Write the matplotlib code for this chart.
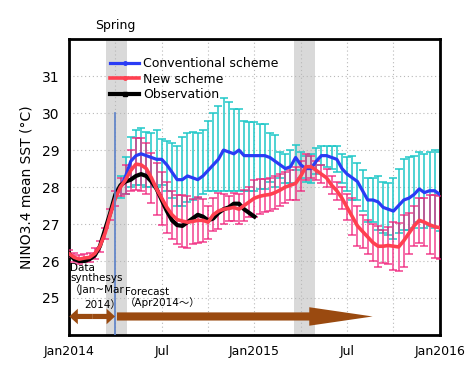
import numpy as np
import matplotlib
matplotlib.use("Agg")
import matplotlib.pyplot as plt
from matplotlib.lines import Line2D
from matplotlib.patches import FancyArrow

plt.rcParams['font.family'] = ['DejaVu Sans', 'Noto Sans CJK JP']

# months since Jan 2014, one value every 1/3 month
obs_start, step = 0.0, 1.0 / 3.0
new_start = 0.0
conv_start = 10.0 / 3.0

obs_sst = [26.2, 26.05, 26.0, 26.0, 26.05, 26.15, 26.4, 26.85, 27.3, 27.8,
           28.05, 28.15, 28.2, 28.3, 28.35, 28.3, 28.15, 27.95, 27.65, 27.35,
           27.1, 26.97, 26.95, 27.05, 27.15, 27.25, 27.2, 27.1, 27.15, 27.3,
           27.4, 27.45, 27.55, 27.55, 27.4, 27.3, 27.2]

new_sst = [26.2, 26.1, 26.05, 26.08, 26.1, 26.2, 26.4, 26.75, 27.25, 27.7,
           28.0, 28.2, 28.45, 28.62, 28.6, 28.5, 28.25, 27.95, 27.7, 27.45,
           27.25, 27.12, 27.08, 27.05, 27.07, 27.1, 27.1, 27.05, 27.25, 27.35,
           27.4, 27.42, 27.45, 27.4, 27.5, 27.6, 27.7, 27.75, 27.78, 27.8,
           27.85, 27.92, 28.0, 28.05, 28.1, 28.3, 28.55, 28.55, 28.45, 28.35,
           28.25, 28.05, 27.9, 27.7, 27.45, 27.2, 26.95, 26.8, 26.65, 26.5,
           26.4, 26.4, 26.42, 26.4, 26.38, 26.55, 26.75, 26.95, 27.1, 27.05,
           26.98, 26.93, 26.9]
new_err = [0.1, 0.12, 0.12, 0.12, 0.12, 0.15, 0.15, 0.15, 0.15, 0.2,
           0.25, 0.4, 0.55, 0.7, 0.72, 0.7, 0.68, 0.7, 0.72, 0.7,
           0.65, 0.67, 0.7, 0.7, 0.6, 0.62, 0.58, 0.45, 0.45, 0.48,
           0.4, 0.35, 0.38, 0.4, 0.42, 0.4, 0.5, 0.48, 0.45, 0.45,
           0.45, 0.42, 0.42, 0.4, 0.45, 0.4, 0.35, 0.3, 0.25, 0.25,
           0.25, 0.25, 0.25, 0.3, 0.35, 0.5, 0.55, 0.45, 0.45, 0.5,
           0.55, 0.45, 0.5, 0.65, 0.65, 0.7, 0.55, 0.55, 0.6, 0.65,
           0.8, 0.85, 0.85]

conv_sst = [28.0, 28.3, 28.7, 28.85, 28.9, 28.85, 28.8, 28.75, 28.75, 28.6,
            28.4, 28.2, 28.2, 28.3, 28.25, 28.2, 28.3, 28.45, 28.6, 28.75,
            29.0, 28.95, 28.9, 29.0, 28.85, 28.85, 28.85, 28.85, 28.85, 28.8,
            28.7, 28.6, 28.5, 28.55, 28.8, 28.6, 28.5, 28.5, 28.7, 28.85,
            28.85, 28.8, 28.75, 28.5, 28.35, 28.25, 28.15, 27.9, 27.65, 27.65,
            27.6, 27.45, 27.4, 27.35, 27.5, 27.65, 27.7, 27.8, 27.95, 27.85,
            27.9, 27.9, 27.8]
conv_err_up = [0.3, 0.5, 0.65, 0.7, 0.7, 0.65, 0.65, 0.8, 0.55, 0.65,
               0.8, 0.9, 1.15, 1.15, 1.25, 1.25, 1.25, 1.35, 1.4, 1.45,
               1.4, 1.35, 1.2, 1.1, 0.95, 0.9, 0.9, 0.85, 0.85, 0.65,
               0.7, 0.35, 0.4, 0.45, 0.35, 0.35, 0.35, 0.4, 0.35, 0.25,
               0.25, 0.3, 0.35, 0.4, 0.45, 0.6, 0.5, 0.55, 0.6, 0.6,
               0.7, 0.7, 0.7, 0.9, 1.0, 1.1, 1.1, 1.05, 1.0, 1.05,
               1.05, 1.1, 1.15]
conv_err_low = [0.3, 0.5, 0.7, 0.8, 0.85, 0.85, 0.8, 0.75, 0.7, 0.7,
                0.7, 0.7, 0.7, 0.7, 0.6, 0.5, 0.5, 0.55, 0.7, 0.85,
                1.1, 1.05, 1.0, 1.1, 0.95, 0.95, 0.95, 0.9, 0.9, 0.65,
                0.7, 0.35, 0.4, 0.45, 0.35, 0.35, 0.35, 0.4, 0.35, 0.25,
                0.3, 0.3, 0.35, 0.4, 0.45, 0.6, 0.5, 0.55, 0.6, 0.6,
                0.75, 0.7, 0.7, 0.75, 0.75, 0.8, 0.85, 0.9, 0.9, 0.95,
                0.95, 1.0, 1.0]

spring_periods = [(2.4, 3.75), (14.55, 15.9)]
forecast_start = 3.0
xtick_pos = [0, 6, 12, 18, 24]
xtick_labels = ["Jan2014", "Jul", "Jan2015", "Jul", "Jan2016"]

t_obs = obs_start + step * np.arange(len(obs_sst))
t_new = new_start + step * np.arange(len(new_sst))
t_conv = conv_start + step * np.arange(len(conv_sst))

fig = plt.figure(figsize=(4.76, 3.73), dpi=100)
ax = fig.add_axes([0.145, 0.102, 0.779, 0.793])

for a, b in spring_periods:
    ax.axvspan(a, b, color="#d9d9d9", lw=0, zorder=0)

ax.errorbar(t_conv, conv_sst, yerr=[conv_err_low, conv_err_up], fmt="none", ecolor="#1fc8c8",
            elinewidth=1.1, capsize=3, capthick=1.1, zorder=2)
ax.errorbar(t_new, new_sst, yerr=new_err, fmt="none", ecolor="#f0207a",
            elinewidth=1.1, capsize=3, capthick=1.1, alpha=0.85, zorder=3)
ax.plot(t_conv, conv_sst, color="#2a3cf5", lw=2.3, zorder=4)
ax.plot(t_obs, obs_sst, color="black", lw=3, zorder=5)
ax.plot(t_new, new_sst, color="#ff4050", lw=2.6, zorder=6)

ax.plot([forecast_start, forecast_start], [24, 30], color="#5a80c8", lw=1.2, zorder=7)

ax.text(forecast_start, 32.38, "Spring", ha="center", va="center", fontsize=9, clip_on=False)

# arrows
arrow_y = 24.5
arrow_col = "#9a4a10"
mid = forecast_start / 2
for d in (-1, 1):
    ax.add_patch(FancyArrow(mid, arrow_y, d * (mid - 0.02), 0, width=0.14, head_width=0.42,
                            head_length=0.55, length_includes_head=True,
                            color=arrow_col, lw=0, zorder=8))
ax.add_patch(FancyArrow(forecast_start + 0.1, arrow_y, 19.65 - forecast_start - 0.1, 0,
                        width=0.22, head_width=0.5, head_length=4.1,
                        length_includes_head=True, color=arrow_col, lw=0, zorder=8))

ax.text(0.08, 25.95, "Data\nsynthesys\n\uff08Jan~Mar", fontsize=7.5, va="top", ha="left",
        linespacing=1.05, zorder=9)
ax.text(3.35, 24.95, "2014\uff09", fontsize=7.5, va="top", ha="right", zorder=9)
ax.text(3.6, 25.3, "Forecast\n\uff08Apr2014\u301c\uff09", fontsize=7.5, va="top", ha="left",
        linespacing=1.05, zorder=9)

ax.set_xlim(0, 24)
ax.set_ylim(24, 32)
ax.set_xticks(xtick_pos)
ax.set_xticklabels(xtick_labels, fontsize=9,
                   fontfamily=['Liberation Sans Narrow', 'DejaVu Sans'])
ax.set_xticks([3, 9, 15, 21], minor=True)
ax.set_yticks([25, 26, 27, 28, 29, 30, 31])
ax.tick_params(axis="both", length=0, which="both", labelsize=10)
ax.tick_params(axis="x", labelsize=9, pad=7)
ax.tick_params(axis="y", pad=7)
ax.grid(True, which="both", color="#b8b8b8", lw=0.8, linestyle=(0, (1, 2.5)), zorder=1)
ax.set_axisbelow(True)
for s in ax.spines.values():
    s.set_linewidth(2)

ax.set_ylabel("NINO3.4 mean SST (\u00b0C)", fontsize=10, labelpad=6)

handles = [Line2D([], [], color="#2a3cf5", lw=2.3, marker="o", ms=2.5),
           Line2D([], [], color="#ff4050", lw=2.6, marker="o", ms=2.5),
           Line2D([], [], color="black", lw=3, marker="s", ms=2.5)]
ax.legend(handles, ["Conventional scheme", "New scheme", "Observation"],
          loc="upper left", bbox_to_anchor=(0.105, 0.948), frameon=False,
          fontsize=9, handlelength=2.3, handletextpad=0.3, labelspacing=0.2,
          borderaxespad=0, borderpad=0.2)

fig.savefig("out.png", dpi=100)
